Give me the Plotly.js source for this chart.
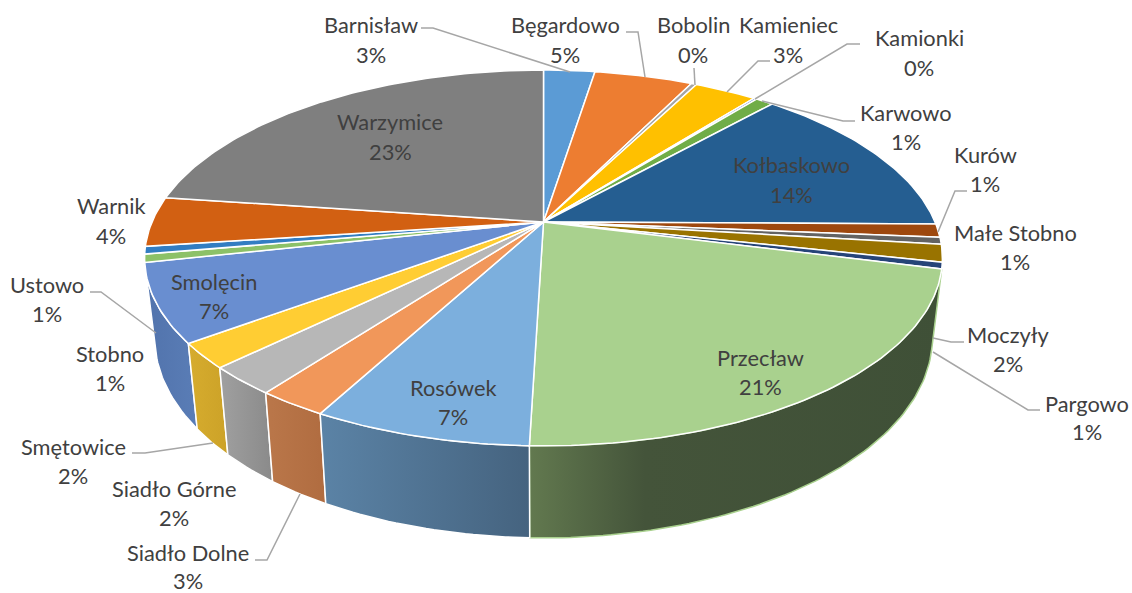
<!DOCTYPE html>
<html>
<head>
<meta charset="utf-8">
<script src="https://cdn.plot.ly/plotly-3.0.1.min.js"></script>
<style>html,body{margin:0;padding:0;background:#fff}#c{width:1132px;height:593px}</style>
</head>
<body>
<div id="c"></div>
<script>
const categories = ["Barnisław","Bęgardowo","Bobolin","Kamieniec","Kamionki","Karwowo","Kołbaskowo","Kurów","Małe Stobno","Moczyły","Pargowo","Przecław","Rosówek","Siadło Dolne","Siadło Górne","Smętowice","Smolęcin","Stobno","Ustowo","Warnik","Warzymice"];
const values = [2.5,4.8,0.26,3.05,0.15,0.87,13.55,1.15,0.6,1.5,0.55,21.5,7.4,2.4,2.45,2.15,6.7,0.7,0.65,4.3,22.8];
const percentLabels = ["3%","5%","0%","3%","0%","1%","14%","1%","1%","2%","1%","21%","7%","3%","2%","2%","7%","1%","1%","4%","23%"];
const topColors = ["#5B9BD5","#ED7D31","#A5A5A5","#FFC000","#4472C4","#70AD47","#255E91","#9E480E","#636363","#997300","#264478","#A9D18E","#7CAFDD","#F1975A","#B7B7B7","#FFCD33","#698ED0","#8CC168","#327DC2","#D26012","#7F7F7F"];
// side wall gradients, only for the slices facing the viewer
const wallColors = {
  "Przecław":[[0,"#62794F"],[0.28,"#44543A"],[1,"#3F5037"]],
  "Rosówek":[[0,"#5B83A6"],[1,"#45637F"]],
  "Siadło Dolne":[[0,"#BA774A"],[1,"#B06C40"]],
  "Siadło Górne":[[0,"#A0A0A0"],[1,"#8A8A8A"]],
  "Smętowice":[[0,"#D6AC2E"],[1,"#CCA228"]],
  "Smolęcin":[[0,"#5173AC"],[1,"#5A7DB6"]]
};
// label anchor: centre x, name line y, percent line y
const labelX = [371,565,693,788,919,906,791,985,1015,1008,1087,760,453,188,174,73,214,110,47,111,390];
const labelY1 = [24,24,24,24,37,112,164,154,232,334,403,357,387,552,488,446,281,353,284,205,121];
const labelY2 = [54,54,54,54,67,141,194,183,261,363,431,386,416,580,517,475,310,382,313,235,151];
const leaders = [
  [[421,433,570],[28,28,72]],
  [[626,638,645],[32,32,77]],
  [[694,695],[68,85]],
  [[770,758,727],[61,61,92]],
  [[860,847,755],[44,44,99]],
  [[855,843,762],[121,121,101]],
  [[967,955,938],[191,191,232]],
  [[964,951,933],[342,342,338]],
  [[1040,1028,933],[410,410,352]],
  [[90,101,156],[292,292,333]],
  [[132,145,213],[453,453,443]],
  [[255,267,300],[560,560,494]]
];

// perspective projection of the pie disc
const cx = 543.5, cy = 222, A = 391.5, B = 181, K = -0.1915, S = 0.975;
function topPt(deg){
  const t = deg*Math.PI/180, X = Math.sin(t), Y = -Math.cos(t), w = 1+K*Y;
  return [cx + A*X/w, cy + B*Y/w, Y];
}
function botPt(deg){
  const p = topPt(deg);
  return [cx + S*(p[0]-cx), p[1] + 76 + 16*p[2]];
}
function arc(a0,a1,fn){
  const n = Math.max(2, Math.ceil(Math.abs(a1-a0)/1));
  const out = [];
  for(let i=0;i<=n;i++) out.push(fn(a0+(a1-a0)*i/n));
  return out;
}
const total = values.reduce((a,b)=>a+b,0);
const traces = [];
let acc = 0;
const slices = categories.map((name,i)=>{
  const a0 = acc/total*360; acc += values[i]; const a1 = acc/total*360;
  return {name,i,a0,a1};
});
// walls first
["Smolęcin","Przecław","Smętowice","Siadło Górne","Siadło Dolne","Rosówek"].forEach(name=>{
  const s = slices.find(d=>d.name===name);
  const t = arc(s.a0,s.a1,topPt), b = arc(s.a1,s.a0,botPt);
  const pts = t.concat(b); pts.push(t[0]);
  traces.push({type:"scatter",mode:"lines",name:name+" wall",
    x:pts.map(p=>p[0]),y:pts.map(p=>p[1]),fill:"toself",
    fillgradient:{type:"horizontal",colorscale:wallColors[name]},
    line:{color:name==="Przecław"?"#A9D18E":"#FFFFFF",width:1.5},
    hoverinfo:"skip",showlegend:false});
});
// top surface
slices.forEach(s=>{
  const pts = [[cx,cy]].concat(arc(s.a0,s.a1,topPt)); pts.push([cx,cy]);
  traces.push({type:"scatter",mode:"lines",name:s.name,
    x:pts.map(p=>p[0]),y:pts.map(p=>p[1]),fill:"toself",fillcolor:topColors[s.i],
    line:{color:"#FFFFFF",width:1.5},hoverinfo:"skip",showlegend:false});
});
// leader lines
leaders.forEach(l=>{
  traces.push({type:"scatter",mode:"lines",x:l[0],y:l[1],line:{color:"#A6A6A6",width:1.5},hoverinfo:"skip",showlegend:false});
});
const font = {family:"Lato, Carlito, sans-serif",size:21.8,color:"#404040"};
const annotations = [];
categories.forEach((name,i)=>{
  annotations.push({x:labelX[i],y:labelY1[i],xref:"x",yref:"y",text:name,showarrow:false,font,xanchor:"center",yanchor:"middle"});
  annotations.push({x:labelX[i],y:labelY2[i],xref:"x",yref:"y",text:percentLabels[i],showarrow:false,font,xanchor:"center",yanchor:"middle"});
});
const layout = {
  width:1132,height:593,margin:{l:0,r:0,t:0,b:0},
  paper_bgcolor:"#FFFFFF",plot_bgcolor:"#FFFFFF",showlegend:false,
  xaxis:{range:[0,1132],visible:false,fixedrange:true},
  yaxis:{range:[593,0],visible:false,fixedrange:true},
  annotations
};
Plotly.newPlot("c",traces,layout,{displayModeBar:false,staticPlot:true});
</script>
</body>
</html>
